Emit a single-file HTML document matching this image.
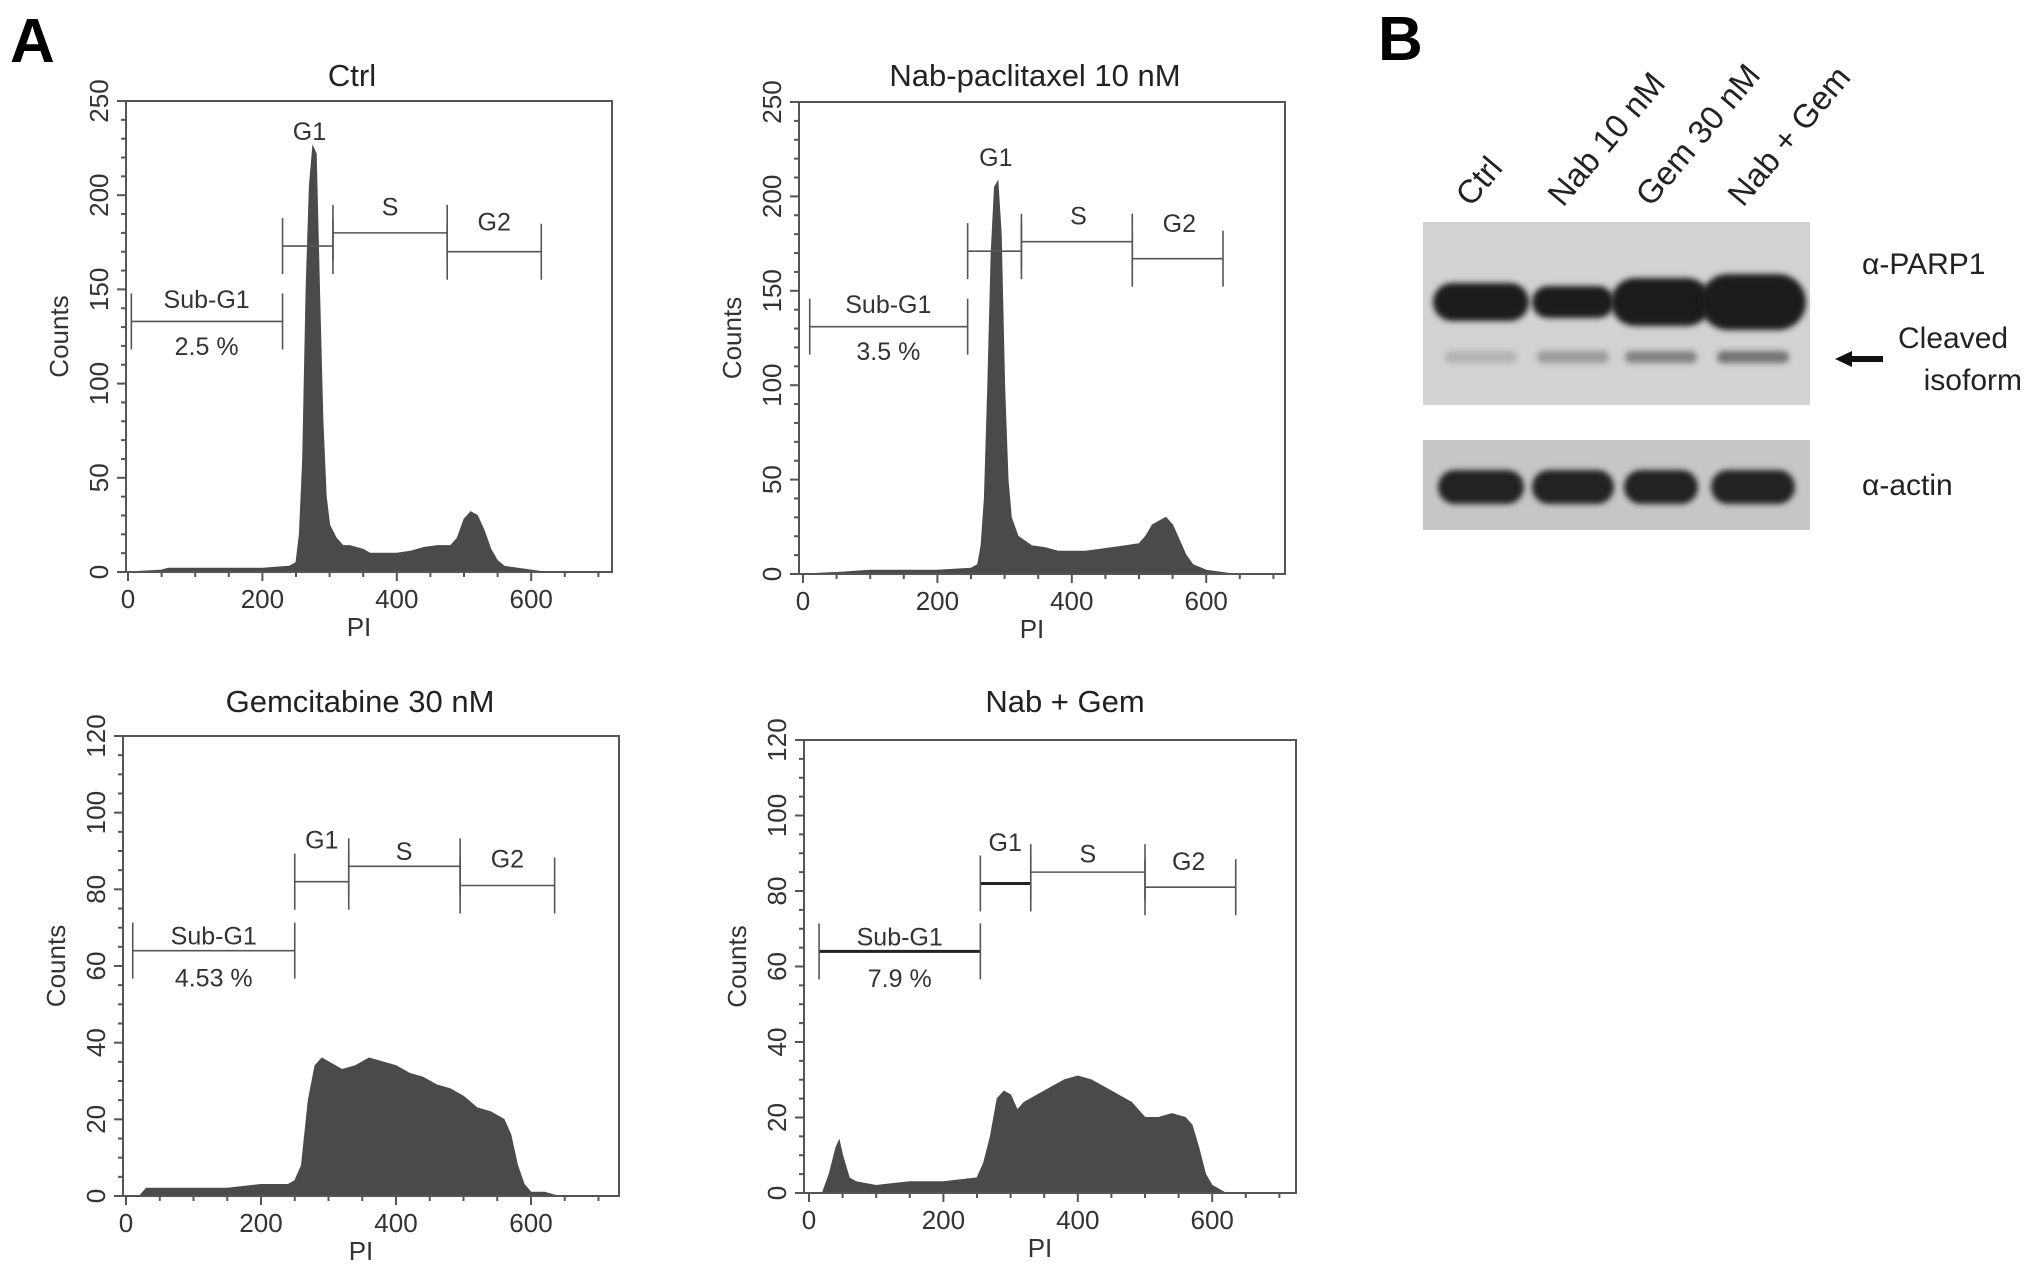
<!DOCTYPE html>
<html><head><meta charset="utf-8">
<style>
html,body{margin:0;padding:0;background:#fff;}
svg{display:block;font-family:"Liberation Sans",Arial,sans-serif;}
</style></head>
<body>
<svg id="fig" width="2031" height="1285" viewBox="0 0 2031 1285" xmlns="http://www.w3.org/2000/svg">
<defs><filter id="blur" x="-30%" y="-60%" width="160%" height="220%"><feGaussianBlur stdDeviation="3"/></filter></defs>
<text x="10" y="62" font-size="62" font-weight="bold" fill="#000">A</text>
<text x="1378" y="60" font-size="62" font-weight="bold" fill="#000">B</text>
<g id="charts"></g>
<g id="blot"></g>
</svg>
<script>
// ---- Data ----
const ctrlPI     = [0,50,60,100,150,200,240,250,255,260,265,270,275,280,285,290,295,300,310,320,330,340,350,360,380,400,420,440,460,480,490,500,510,520,530,540,550,560,580,600,620,640];
const ctrlCounts = [0,1,2,2,2,2,3,5,20,60,150,205,226,222,150,80,40,25,18,14,14,13,12,10,10,10,11,13,14,14,18,28,32,30,22,12,6,3,2,1,0,0];
const nabPI      = [0,60,100,150,200,250,260,265,270,275,280,285,290,295,300,305,310,320,340,360,380,400,420,440,460,480,500,510,520,530,540,550,560,570,580,600,620,640];
const nabCounts  = [0,1,2,2,2,3,5,15,40,100,170,205,208,180,100,50,30,20,15,14,12,12,12,13,14,15,16,20,26,28,30,26,18,10,5,2,1,0];
const gemPI      = [0,20,30,60,100,150,200,240,250,260,270,280,290,300,320,340,360,380,400,420,440,460,480,500,520,540,560,570,580,590,600,620,640,650];
const gemCounts  = [0,0,2,2,2,2,3,3,4,8,25,34,36,35,33,34,36,35,34,32,31,29,28,26,23,22,20,16,8,3,1,1,0,0];
const combPI     = [0,10,20,30,40,45,50,60,70,100,150,200,250,260,270,280,290,300,310,320,340,360,380,400,420,440,460,480,500,520,540,560,570,580,590,600,610,620];
const combCounts = [0,0,0,5,12,14,10,4,3,2,3,3,4,8,15,25,27,26,22,24,26,28,30,31,30,28,26,24,20,20,21,20,18,12,5,2,1,0];

const yTicks1 = [0,50,100,150,200,250];
const yTicks2 = [0,20,40,60,80,100,120];
const xTicks  = [0,200,400,600];

const panels = [
  {name:'ctrl', title:'Ctrl', pi:ctrlPI, counts:ctrlCounts, ymax:250, yTicks:yTicks1, minor:10,
   fx:126, fr:612, ft:101, fb:572, x0:128, px:0.672, tx:352, ty:86,
   gates:[{a:5,b:230,y:133,label:'Sub-G1',ly:145,pct:'2.5 %',py:120,lx:117},{a:230,b:305,y:173,label:'G1',ly:234,lx:270},{a:305,b:475,y:180,label:'S',ly:194,lx:390},{a:475,b:615,y:170,label:'G2',ly:186,lx:545}]},
  {name:'nab', title:'Nab-paclitaxel 10 nM', pi:nabPI, counts:nabCounts, ymax:250, yTicks:yTicks1, minor:10,
   fx:799, fr:1285, ft:102, fb:574, x0:803, px:0.672, tx:1035, ty:86,
   gates:[{a:10,b:245,y:131,label:'Sub-G1',ly:143,pct:'3.5 %',py:118,lx:127},{a:245,b:325,y:171,label:'G1',ly:221,lx:287},{a:325,b:490,y:176,label:'S',ly:190,lx:410},{a:490,b:625,y:167,label:'G2',ly:186,lx:560}]},
  {name:'gem', title:'Gemcitabine 30 nM', pi:gemPI, counts:gemCounts, ymax:120, yTicks:yTicks2, minor:5,
   fx:123, fr:619, ft:736, fb:1196, x0:126, px:0.675, tx:360, ty:712,
   gates:[{a:10,b:250,y:64,label:'Sub-G1',ly:68,pct:'4.53 %',py:57,lx:130},{a:250,b:330,y:82,label:'G1',ly:93,lx:290},{a:330,b:495,y:86,label:'S',ly:90,lx:412},{a:495,b:635,y:81,label:'G2',ly:88,lx:565}]},
  {name:'nab-gem', title:'Nab + Gem', pi:combPI, counts:combCounts, ymax:120, yTicks:yTicks2, minor:5,
   fx:804, fr:1296, ft:740, fb:1193, x0:809, px:0.672, tx:1065, ty:712,
   gates:[{a:15,b:255,y:64,label:'Sub-G1',ly:68,pct:'7.9 %',py:57,lx:135,thick:true},{a:255,b:330,y:82,label:'G1',ly:93,lx:292,thick:true},{a:330,b:500,y:85,label:'S',ly:90,lx:415},{a:500,b:635,y:81,label:'G2',ly:88,lx:565}]}
];

const NS='http://www.w3.org/2000/svg';
function mk(tag, attrs, parent){const e=document.createElementNS(NS,tag);for(const k in attrs)e.setAttribute(k,attrs[k]);parent.appendChild(e);return e;}
const charts=document.getElementById('charts');

panels.forEach(p=>{
  const g=mk('g',{},charts);
  
  
  const X=v=>p.x0+v*p.px;
  const Y=v=>p.fb-(v/p.ymax)*(p.fb-p.ft);
  const t=mk('text',{x:p.tx,y:p.ty,'font-size':31,'text-anchor':'middle',fill:'#222'},g);
  t.textContent=p.title;
  
  
  let d='M'+X(p.pi[0])+','+Y(0);
  p.pi.forEach((v,i)=>{d+=' L'+X(v).toFixed(1)+','+Y(p.counts[i]).toFixed(1);});
  d+=' L'+X(p.pi[p.pi.length-1])+','+Y(0)+' Z';
  const area=mk('path',{d:d,fill:'#4a4a4a',stroke:'#4a4a4a','stroke-width':1},g);
  
  
  const fr=mk('rect',{x:p.fx,y:p.ft,width:p.fr-p.fx,height:p.fb-p.ft,fill:'none',stroke:'#555','stroke-width':2},g);
  
  
  for(let v=0; v<=p.ymax; v+=p.minor){
    const major=p.yTicks.indexOf(v)>=0;
    mk('line',{x1:p.fx-(major?9:5),x2:p.fx,y1:Y(v),y2:Y(v),stroke:'#555','stroke-width':2},g);
  }
  p.yTicks.forEach(v=>{
    const tl=mk('text',{x:0,y:0,'font-size':26,'text-anchor':'middle',fill:'#333',transform:`translate(${p.fx-18},${Y(v)}) rotate(-90)`},g);
    tl.textContent=v;
    
    
  });
  for(let v=0; v<=700; v+=50){
    const major=xTicks.indexOf(v)>=0;
    mk('line',{x1:X(v),x2:X(v),y1:p.fb,y2:p.fb+(major?9:5),stroke:'#555','stroke-width':2},g);
  }
  xTicks.forEach(v=>{
    const tl=mk('text',{x:X(v),y:p.fb+36,'font-size':26,'text-anchor':'middle',fill:'#333'},g);
    tl.textContent=v;
    
    
  });
  const xl=mk('text',{x:(p.fx+p.fr)/2-10,y:p.fb+64,'font-size':26,'text-anchor':'middle',fill:'#333'},g);
  xl.textContent='PI';
  
  
  const yl=mk('text',{x:0,y:0,'font-size':26,'text-anchor':'middle',fill:'#333',transform:`translate(${p.fx-58},${(p.ft+p.fb)/2}) rotate(-90)`},g);
  yl.textContent='Counts';
  
  
  p.gates.forEach(q=>{
    const gg=mk('g',{},g);
    
    
    const sw=q.thick?3:1.6;
    mk('line',{x1:X(q.a),x2:X(q.b),y1:Y(q.y),y2:Y(q.y),stroke:q.thick?'#222':'#555','stroke-width':sw},gg);
    mk('line',{x1:X(q.a),x2:X(q.a),y1:Y(q.y)-28,y2:Y(q.y)+28,stroke:'#555','stroke-width':1.6},gg);
    mk('line',{x1:X(q.b),x2:X(q.b),y1:Y(q.y)-28,y2:Y(q.y)+28,stroke:'#555','stroke-width':1.6},gg);
    const lt=mk('text',{x:X(q.lx),y:Y(q.ly)+9,'font-size':25,'text-anchor':'middle',fill:'#333'},gg);
    lt.textContent=q.label;
    if(q.pct){
      const pt=mk('text',{x:X(q.lx),y:Y(q.py)+9,'font-size':25,'text-anchor':'middle',fill:'#333'},gg);
      pt.textContent=q.pct;
    }
  });
});

// ---- Western blot ----
const lanes = ['Ctrl','Nab 10 nM','Gem 30 nM','Nab + Gem'];
const laneX = [1481,1573,1661,1753];
const parpW = [96,82,100,106], parpH=[38,32,48,56];
const cleavedAlpha=[0.2,0.35,0.5,0.6];
const actinW=[86,82,74,84];
const blot=document.getElementById('blot');


mk('rect',{x:1423,y:222,width:387,height:183,fill:'#d2d2d2'},blot);
mk('rect',{x:1423,y:440,width:387,height:90,fill:'#c6c6c6'},blot);
lanes.forEach((l,i)=>{
  const lt=mk('text',{x:0,y:0,'font-size':33,fill:'#222',transform:`translate(${laneX[i]-10},${208}) rotate(-50)`},blot);
  lt.textContent=l;
  
  
  const b=mk('rect',{x:laneX[i]-parpW[i]/2,y:302-parpH[i]/2,width:parpW[i],height:parpH[i],rx:parpH[i]/2,fill:'#1e1e1e',filter:'url(#blur)'},blot);
  
  
  const c=mk('rect',{x:laneX[i]-36,y:351,width:72,height:12,rx:6,fill:'#333','fill-opacity':cleavedAlpha[i],filter:'url(#blur)'},blot);
  
  
  const a=mk('rect',{x:laneX[i]-actinW[i]/2,y:470,width:actinW[i],height:34,rx:17,fill:'#222',filter:'url(#blur)'},blot);
  
  
});
[['α-PARP1',1862,274],['Cleaved',1898,348],['isoform',1898,390],['α-actin',1862,495]].forEach(r=>{
  const t=mk('text',{x:r[1],y:r[2],'font-size':30,fill:'#222'},blot);
  if(r[0]==='isoform'){t.setAttribute('x',2022);t.setAttribute('text-anchor','end');}
  t.textContent=r[0];
  
  
});
const arr=mk('path',{d:'M1835,359 L1852,351 L1852,356 L1883,356 L1883,362 L1852,362 L1852,367 Z',fill:'#111'},blot);


</script>
</body></html>
